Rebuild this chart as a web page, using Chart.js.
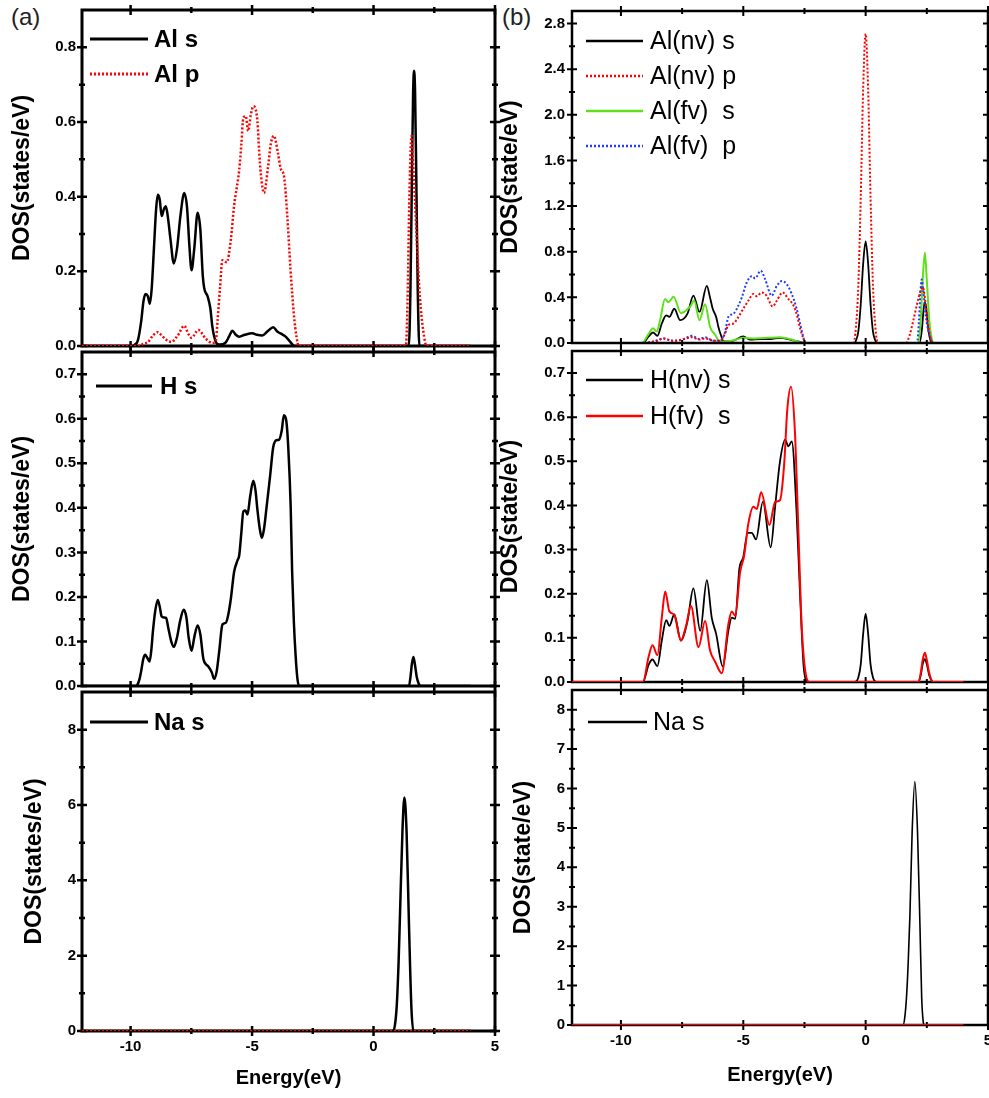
<!DOCTYPE html>
<html>
<head>
<meta charset="utf-8">
<script src="https://cdn.jsdelivr.net/npm/chart.js@4.4.0/dist/chart.umd.min.js"></script>
<style>
  html, body { margin: 0; padding: 0; background: #fff; }
  body { width: 989px; height: 1098px; position: relative; overflow: hidden; }
  .panel { position: absolute; }
  .tag { position: absolute; font: 24px "Liberation Sans", Arial, sans-serif; color: #222; }
</style>
</head>
<body>
<div class="tag" style="left:11px;top:3px">(a)</div>
<div class="tag" style="left:502px;top:3px">(b)</div>
<script>
// ---- data: [energy (eV), DOS] pairs ----
const xTicks = [-10, -5, 0, 5];
const yTicksA1 = [0, 0.2, 0.4, 0.6, 0.8];
const yTicksA2 = [0, 0.1, 0.2, 0.3, 0.4, 0.5, 0.6, 0.7];
const yTicksA3 = [0, 2, 4, 6, 8];
const yTicksB1 = [0, 0.4, 0.8, 1.2, 1.6, 2.0, 2.4, 2.8];
const yTicksB2 = [0, 0.1, 0.2, 0.3, 0.4, 0.5, 0.6, 0.7];
const yTicksB3 = [0, 1, 2, 3, 4, 5, 6, 7, 8];

// (a) Al s / Al p
const alS = [[-12,0],[-9.9,0],[-9.84,0.003],[-9.70,0.015],[-9.56,0.068],[-9.47,0.12],[-9.38,0.139],[-9.29,0.133],[-9.21,0.113],[-9.13,0.155],
  [-9.04,0.26],[-8.95,0.366],[-8.88,0.405],[-8.80,0.392],[-8.72,0.348],[-8.63,0.366],[-8.55,0.374],[-8.47,0.348],[-8.36,0.287],[-8.22,0.221],
  [-8.09,0.26],[-7.95,0.348],[-7.79,0.41],[-7.68,0.374],[-7.58,0.269],[-7.49,0.203],[-7.38,0.26],[-7.24,0.357],[-7.13,0.313],[-7.03,0.19],
  [-6.97,0.155],[-6.83,0.133],[-6.72,0.102],[-6.63,0.05],[-6.49,0.011],[-6.35,0.004],[-6.08,0.01],[-5.95,0.025],[-5.81,0.041],[-5.67,0.03],
  [-5.53,0.025],[-5.30,0.03],[-4.99,0.034],[-4.80,0.03],[-4.58,0.028],[-4.35,0.04],[-4.13,0.05],[-3.95,0.038],[-3.76,0.031],[-3.62,0.025],
  [-3.48,0.015],[-3.35,0.005],[-3.25,0],[1.45,0],[1.52,0.15],[1.58,0.45],[1.63,0.68],[1.67,0.737],[1.71,0.68],[1.76,0.45],
  [1.82,0.15],[1.89,0],[4,0]];
const alP = [[-12,0],[-9.6,0],[-9.49,0.006],[-9.29,0.01],[-9.08,0.028],[-8.88,0.037],[-8.72,0.028],[-8.54,0.017],[-8.33,0.011],[-8.06,0.028],
  [-7.79,0.054],[-7.62,0.032],[-7.49,0.022],[-7.21,0.043],[-6.90,0.019],[-6.63,0.008],[-6.49,0.015],[-6.42,0.068],[-6.32,0.155],[-6.22,0.23],
  [-6.04,0.224],[-5.87,0.287],[-5.74,0.375],[-5.53,0.471],[-5.44,0.541],[-5.36,0.611],[-5.26,0.616],[-5.16,0.576],[-5.05,0.62],[-4.95,0.642],
  [-4.78,0.603],[-4.71,0.524],[-4.64,0.462],[-4.51,0.41],[-4.34,0.48],[-4.23,0.541],[-4.10,0.563],[-3.93,0.515],[-3.82,0.475],[-3.68,0.453],
  [-3.55,0.348],[-3.42,0.208],[-3.28,0.085],[-3.17,0.024],[-3.08,0],[1.33,0],[1.40,0.12],[1.47,0.38],[1.53,0.53],[1.57,0.563],
  [1.62,0.5],[1.70,0.4],[1.77,0.30],[1.91,0.13],[2.05,0.04],[2.18,0],[4,0]];

// (a) H s
const hS = [[-12,0],[-9.8,0],[-9.73,0.002],[-9.63,0.016],[-9.56,0.035],[-9.48,0.06],[-9.40,0.07],[-9.32,0.064],[-9.22,0.055],[-9.15,0.079],
  [-9.08,0.123],[-8.99,0.167],[-8.88,0.193],[-8.80,0.178],[-8.72,0.156],[-8.63,0.154],[-8.54,0.153],[-8.45,0.131],[-8.33,0.101],[-8.22,0.088],
  [-8.09,0.109],[-7.95,0.149],[-7.81,0.171],[-7.70,0.153],[-7.61,0.109],[-7.49,0.079],[-7.38,0.109],[-7.24,0.136],[-7.13,0.116],[-7.0,0.06],
  [-6.80,0.044],[-6.66,0.031],[-6.56,0.016],[-6.45,0.035],[-6.35,0.079],[-6.22,0.138],[-6.08,0.142],[-5.98,0.16],[-5.87,0.197],[-5.74,0.256],
  [-5.60,0.282],[-5.53,0.293],[-5.44,0.345],[-5.36,0.392],[-5.27,0.394],[-5.19,0.385],[-5.08,0.425],[-4.95,0.461],[-4.86,0.44],[-4.78,0.396],
  [-4.68,0.352],[-4.60,0.333],[-4.51,0.352],[-4.40,0.403],[-4.26,0.47],[-4.13,0.536],[-4.00,0.552],[-3.89,0.553],[-3.78,0.573],[-3.69,0.608],
  [-3.59,0.595],[-3.51,0.536],[-3.41,0.403],[-3.35,0.256],[-3.28,0.145],[-3.21,0.071],[-3.14,0.02],[-3.07,0],[1.46,0],[1.52,0.02],
  [1.58,0.05],[1.64,0.065],[1.70,0.05],[1.78,0.02],[1.86,0.005],[1.95,0],[4,0]];

// (a) Na s
const naS_a = [[-12,0],[0.78,0],[0.88,0.15],[0.96,0.72],[1.03,1.8],[1.09,3.1],[1.19,5.3],[1.27,6.2],[1.36,5.3],[1.46,2.8],[1.56,0.6],[1.64,0],[4,0]];
const naBase_a = [[-12,0],[4,0]];

// (b) Al(nv) / Al(fv)
const alNvS = [[-12,0],[-9.1,0],[-8.87,0.057],[-8.69,0.092],[-8.51,0.063],[-8.33,0.171],[-8.15,0.243],[-8.02,0.229],[-7.82,0.30],[-7.58,0.20],
  [-7.28,0.257],[-7.04,0.415],[-6.79,0.272],[-6.49,0.50],[-6.36,0.40],[-6.25,0.30],[-6.11,0.229],[-6.02,0.143],[-5.92,0.072],[-5.80,0.015],
  [-5.6,0.015],[-5.40,0.02],[-5.0,0.057],[-4.73,0.03],[-4.3,0.035],[-3.9,0.035],[-3.5,0.045],[-3.1,0.03],[-2.68,0.01],[-2.48,0],
  [-0.45,0],[-0.4,0.02],[-0.3,0.1],[-0.2,0.34],[-0.1,0.7],[0,0.89],[0.1,0.7],[0.2,0.34],[0.3,0.1],[0.4,0.02],
  [0.45,0],[2.2,0],[2.3,0.12],[2.37,0.3],[2.42,0.357],[2.48,0.3],[2.56,0.12],[2.7,0],[4,0]];
const alNvP = [[-12,0],[-9.1,0],[-8.8,0.01],[-8.5,0.02],[-8.26,0.04],[-7.9,0.02],[-7.6,0.025],[-7.1,0.05],[-6.8,0.03],[-6.56,0.04],
  [-6.2,0.02],[-5.95,0.02],[-5.74,0.086],[-5.61,0.157],[-5.40,0.171],[-5.20,0.229],[-5.0,0.30],[-4.79,0.372],[-4.59,0.43],[-4.45,0.41],
  [-4.25,0.443],[-4.05,0.415],[-3.80,0.32],[-3.63,0.372],[-3.39,0.443],[-3.16,0.386],[-2.95,0.33],[-2.79,0.23],[-2.68,0.13],[-2.55,0.043],
  [-2.45,0],[-0.5,0],[-0.4,0.13],[-0.3,0.5],[-0.2,1.28],[-0.1,2.24],[0,2.71],[0.1,2.24],[0.2,1.28],[0.3,0.5],
  [0.4,0.13],[0.5,0],[1.65,0],[1.8,0.07],[1.95,0.2],[2.1,0.34],[2.25,0.46],[2.33,0.49],[2.42,0.4],[2.5,0.25],
  [2.6,0.1],[2.75,0],[4,0]];
const alFvS = [[-12,0],[-9.15,0],[-8.87,0.08],[-8.69,0.129],[-8.54,0.10],[-8.40,0.20],[-8.20,0.386],[-8.06,0.357],[-7.85,0.406],[-7.55,0.263],
  [-7.17,0.32],[-7.01,0.372],[-6.79,0.20],[-6.56,0.34],[-6.36,0.143],[-6.15,0.072],[-5.95,0.01],[-5.6,0.015],[-5.3,0.03],[-5.0,0.045],
  [-4.5,0.04],[-4.0,0.045],[-3.5,0.05],[-3.1,0.035],[-2.75,0.01],[-2.55,0],[2.15,0],[2.25,0.2],[2.33,0.55],[2.42,0.79],
  [2.5,0.55],[2.6,0.2],[2.72,0.02],[2.78,0],[4,0]];
const alFvP = [[-12,0],[-9.1,0],[-8.7,0.01],[-8.26,0.04],[-7.9,0.02],[-7.5,0.03],[-7.1,0.063],[-6.8,0.035],[-6.57,0.05],[-6.2,0.02],
  [-5.95,0.02],[-5.74,0.10],[-5.61,0.229],[-5.40,0.257],[-5.20,0.328],[-5.06,0.40],[-4.86,0.53],[-4.65,0.586],[-4.52,0.566],[-4.29,0.634],
  [-4.11,0.56],[-3.84,0.415],[-3.63,0.50],[-3.43,0.543],[-3.22,0.514],[-3.02,0.43],[-2.82,0.30],[-2.68,0.171],[-2.51,0.025],[-2.45,0],
  [2.1,0],[2.18,0.2],[2.24,0.45],[2.29,0.557],[2.36,0.45],[2.45,0.25],[2.55,0.12],[2.65,0.04],[2.76,0],[4,0]];

// (b) H(nv) / H(fv)
const hNvS = [[-12,0],[-9.1,0],[-8.87,0.039],[-8.71,0.051],[-8.51,0.036],[-8.33,0.094],[-8.15,0.14],[-8.02,0.127],[-7.82,0.153],[-7.55,0.094],
  [-7.28,0.138],[-7.04,0.212],[-6.76,0.116],[-6.49,0.231],[-6.29,0.146],[-6.11,0.109],[-5.84,0.035],[-5.61,0.116],[-5.47,0.146],[-5.33,0.143],
  [-5.16,0.257],[-5.0,0.283],[-4.82,0.338],[-4.65,0.338],[-4.48,0.323],[-4.20,0.408],[-3.88,0.305],[-3.70,0.397],[-3.50,0.50],[-3.29,0.549],
  [-3.16,0.534],[-3.02,0.545],[-2.82,0.382],[-2.68,0.197],[-2.52,0.027],[-2.35,0],[-0.44,0],[-0.3,0.01],[-0.2,0.04],[-0.1,0.11],
  [0,0.155],[0.1,0.11],[0.2,0.04],[0.3,0.01],[0.44,0],[2.16,0],[2.25,0.015],[2.33,0.04],[2.42,0.052],[2.5,0.04],
  [2.6,0.015],[2.77,0],[4,0]];
const hFvS = [[-12,0],[-9.1,0],[-8.87,0.057],[-8.71,0.083],[-8.51,0.061],[-8.33,0.146],[-8.19,0.205],[-8.02,0.16],[-7.82,0.152],[-7.55,0.094],
  [-7.34,0.127],[-7.14,0.172],[-6.83,0.079],[-6.56,0.138],[-6.36,0.072],[-6.15,0.046],[-5.88,0.02],[-5.61,0.131],[-5.47,0.16],[-5.33,0.15],
  [-5.13,0.249],[-4.97,0.285],[-4.79,0.36],[-4.59,0.397],[-4.45,0.392],[-4.27,0.43],[-3.93,0.356],[-3.70,0.408],[-3.50,0.412],[-3.33,0.493],
  [-3.20,0.619],[-3.05,0.669],[-2.89,0.567],[-2.75,0.345],[-2.61,0.123],[-2.42,0.01],[-2.3,0],[2.16,0],[2.25,0.02],[2.33,0.05],
  [2.42,0.066],[2.5,0.05],[2.6,0.02],[2.77,0],[4,0]];

// (b) Na s
const naS_b = [[-12,0],[1.53,0],[1.6,0.2],[1.67,0.71],[1.74,1.6],[1.81,2.8],[1.90,4.9],[2.01,6.18],[2.12,4.9],[2.22,2.5],[2.29,0.7],[2.35,0.1],[2.4,0],[5,0]];
const naBase_b = [[-12,0],[4,0]];

// ---- drawing ----
const FONT = '"Liberation Sans", Arial, sans-serif';
const PAD_T = 12, PAD_R = 12;
const RED = '#ff0000', GREEN = '#5fe01c', BLUE = '#1f3dff';

const pts = arr => arr.map(p => ({x: p[0], y: p[1]}));

// frame with ticks on all four sides (major from the scale, minor halfway)
function drawFrame(chart, o) {
  const {ctx, chartArea: a, scales: {x, y}} = chart;
  ctx.save();
  ctx.strokeStyle = '#000';
  ctx.lineWidth = o.tickWidth;
  const marks = (scale) => {
    const major = scale.ticks.map(t => t.value);
    const step = major[1] - major[0];
    const minor = major.map(v => v + step / 2).filter(v => v < scale.max);
    return {major, minor};
  };
  const mx = marks(x), my = marks(y);
  const drawX = (vals, len) => vals.forEach(v => {
    const px = x.getPixelForValue(v);
    ctx.beginPath();
    ctx.moveTo(px, a.bottom - len); ctx.lineTo(px, a.bottom + len);
    ctx.moveTo(px, a.top - len); ctx.lineTo(px, a.top + len);
    ctx.stroke();
  });
  const drawY = (vals, len) => vals.forEach(v => {
    const py = y.getPixelForValue(v);
    ctx.beginPath();
    ctx.moveTo(a.left - len, py); ctx.lineTo(a.left + len, py);
    ctx.moveTo(a.right - len, py); ctx.lineTo(a.right + len, py);
    ctx.stroke();
  });
  drawX(mx.major, 5); drawX(mx.minor, 3);
  drawY(my.major, 5); drawY(my.minor, 3);
  ctx.lineWidth = o.frameWidth;
  ctx.strokeRect(a.left, a.top, a.right - a.left, a.bottom - a.top);
  ctx.restore();
}

const frameTicks = {
  id: 'frameTicks',
  beforeDatasetsDraw(chart, args, o) { if (!o.onTop) drawFrame(chart, o); },
  afterDatasetsDraw(chart, args, o) { if (o.onTop) drawFrame(chart, o); }
};

// legend drawn inside the plot area, top-left
const insetLegend = {
  id: 'insetLegend',
  afterDatasetsDraw(chart, args, o) {
    const {ctx, chartArea: a} = chart;
    ctx.save();
    ctx.font = o.font;
    ctx.fillStyle = '#000';
    ctx.textBaseline = 'middle';
    ctx.textAlign = 'left';
    let row = 0;
    chart.data.datasets.forEach(ds => {
      if (!ds.label) return;
      const yy = a.top + o.y0 + row * o.dy;
      ctx.strokeStyle = ds.borderColor;
      ctx.lineWidth = o.lineWidth;
      ctx.setLineDash(ds.borderDash || []);
      ctx.beginPath();
      ctx.moveTo(a.left + o.x0, yy); ctx.lineTo(a.left + o.x1, yy);
      ctx.stroke();
      ctx.setLineDash([]);
      ctx.fillText(ds.label, a.left + o.tx, yy + 1);
      row++;
    });
    ctx.restore();
  }
};

const fix1 = v => v.toFixed(1);
const fix0 = v => String(v);

const panels = [
  { colX0: 0, left: 82, top: 7, right: 495, bottom: 349, ymax: 0.9, yTicks: yTicksA1, fmt: fix1, showX: false, xh: 12,
    ytitle: 'DOS(states/eV)', yTitlePad: 9, yPad: 6, frameWidth: 3, tickWidth: 2.5,
    legend: {x0: 8, x1: 66, tx: 72, y0: 29, dy: 35, lineWidth: 3, font: 'bold 24px ' + FONT},
    series: [
      {label: 'Al s', data: alS, color: '#000', width: 2.5, order: 1},
      {label: 'Al p', data: alP, color: RED, width: 2.5, dash: [2, 2], order: 0}
    ]},
  { colX0: 0, left: 82, top: 349, right: 495, bottom: 689, ymax: 0.75, yTicks: yTicksA2, fmt: fix1, showX: false, xh: 12,
    ytitle: 'DOS(states/eV)', yTitlePad: 9, yPad: 6, frameWidth: 3, tickWidth: 2.5,
    legend: {x0: 14, x1: 70, tx: 78, y0: 34, dy: 35, lineWidth: 3, font: 'bold 24px ' + FONT},
    series: [
      {label: 'H s', data: hS, color: '#000', width: 2.5, order: 0}
    ]},
  { colX0: 0, left: 82, top: 689, right: 495, bottom: 1031, ymax: 9, yTicks: yTicksA3, fmt: fix0, showX: true, xh: 64,
    xTitlePad: 5, ytitle: 'DOS(states/eV)', yTitlePad: 21, yPad: 6, frameWidth: 3, tickWidth: 2.5,
    legend: {x0: 8, x1: 66, tx: 72, y0: 30, dy: 35, lineWidth: 3, font: 'bold 24px ' + FONT},
    series: [
      {label: 'Na s', data: naS_a, color: '#000', width: 2.5, order: 1},
      {data: naBase_a, color: RED, width: 2.5, dash: [2, 2], order: 0}
    ]},
  { colX0: 497, left: 572, top: 7, right: 988, bottom: 347, ymax: 2.91, yTicks: yTicksB1, fmt: fix1, showX: false, xh: 12,
    ytitle: 'DOS(state/eV)', yTitlePad: 0, yPad: 7, frameWidth: 2.5, tickWidth: 2, frameOnTop: true,
    legend: {x0: 14, x1: 71, tx: 78, y0: 30, dy: 35, lineWidth: 2.5, font: '25px ' + FONT},
    series: [
      {label: 'Al(nv) s', data: alNvS, color: '#000', width: 1.8, order: 2},
      {label: 'Al(nv) p', data: alNvP, color: RED, width: 2, dash: [2, 2], order: 0},
      {label: 'Al(fv)  s', data: alFvS, color: GREEN, width: 2, order: 1},
      {label: 'Al(fv)  p', data: alFvP, color: BLUE, width: 2, dash: [2, 2], order: 0}
    ]},
  { colX0: 497, left: 572, top: 347, right: 988, bottom: 686, ymax: 0.75, yTicks: yTicksB2, fmt: fix1, showX: false, xh: 12,
    ytitle: 'DOS(state/eV)', yTitlePad: 0, yPad: 7, frameWidth: 2.5, tickWidth: 2,
    legend: {x0: 14, x1: 71, tx: 78, y0: 29, dy: 36, lineWidth: 2.5, font: '25px ' + FONT},
    series: [
      {label: 'H(nv) s', data: hNvS, color: '#000', width: 1.8, order: 1},
      {label: 'H(fv)  s', data: hFvS, color: RED, width: 2, order: 0}
    ]},
  { colX0: 497, left: 572, top: 686, right: 988, bottom: 1025, ymax: 8.5, yTicks: yTicksB3, fmt: fix0, showX: true, xh: 64,
    xTitlePad: 2, ytitle: 'DOS(state/eV)', yTitlePad: 13, yPad: 7, frameWidth: 2.5, tickWidth: 2,
    legend: {x0: 16, x1: 75, tx: 81, y0: 32, dy: 35, lineWidth: 2.5, font: '25px ' + FONT},
    series: [
      {label: 'Na s', data: naS_b, color: '#000', width: 1.6, order: 1},
      {data: naBase_b, color: RED, width: 2, order: 0}
    ]}
];

panels.forEach(p => {
  const wrapL = p.colX0, wrapT = p.top - PAD_T;
  const w = p.right + PAD_R - wrapL;
  const h = p.bottom - p.top + PAD_T + p.xh;
  const div = document.createElement('div');
  div.className = 'panel';
  div.style.cssText = `left:${wrapL}px;top:${wrapT}px;width:${w}px;height:${h}px`;
  const cv = document.createElement('canvas');
  cv.width = w; cv.height = h;
  cv.style.width = w + 'px'; cv.style.height = h + 'px';
  div.appendChild(cv);
  document.body.appendChild(div);

  new Chart(cv, {
    type: 'line',
    data: {
      datasets: p.series.map(s => ({
        label: s.label,
        data: pts(s.data),
        borderColor: s.color,
        borderWidth: s.width,
        borderDash: s.dash || [],
        pointRadius: 0,
        fill: false,
        cubicInterpolationMode: 'monotone',
        order: s.order
      }))
    },
    options: {
      responsive: false,
      animation: false,
      events: [],
      layout: { padding: { left: 0, top: PAD_T, right: PAD_R, bottom: 0 } },
      plugins: {
        legend: { display: false },
        tooltip: { enabled: false },
        frameTicks: { frameWidth: p.frameWidth, tickWidth: p.tickWidth, onTop: !!p.frameOnTop },
        insetLegend: p.legend
      },
      scales: {
        x: {
          type: 'linear', min: -12, max: 5,
          afterBuildTicks: s => { s.ticks = xTicks.map(v => ({value: v})); },
          afterFit: s => { s.height = p.xh; },
          grid: { display: false, drawTicks: false },
          border: { display: false },
          ticks: { display: p.showX, padding: 7, color: '#000', font: { family: FONT, size: 15, weight: 'bold' }, callback: v => String(v) },
          title: { display: p.showX, text: 'Energy(eV)', color: '#000', font: { family: FONT, size: 20, weight: 'bold' },
                   padding: { top: 0, bottom: p.xTitlePad || 0 } }
        },
        y: {
          type: 'linear', min: 0, max: p.ymax,
          afterBuildTicks: s => { s.ticks = p.yTicks.map(v => ({value: v})); },
          afterFit: s => { s.width = p.left - p.colX0; },
          grid: { display: false, drawTicks: false },
          border: { display: false },
          ticks: { padding: p.yPad, color: '#000', font: { family: FONT, size: 15, weight: 'bold' }, callback: v => p.fmt(v) },
          title: { display: true, text: p.ytitle, color: '#000', font: { family: FONT, size: 23, weight: 'bold' },
                   padding: { top: p.yTitlePad, bottom: 0 } }
        }
      }
    },
    plugins: [frameTicks, insetLegend]
  });
});
</script>
</body>
</html>
